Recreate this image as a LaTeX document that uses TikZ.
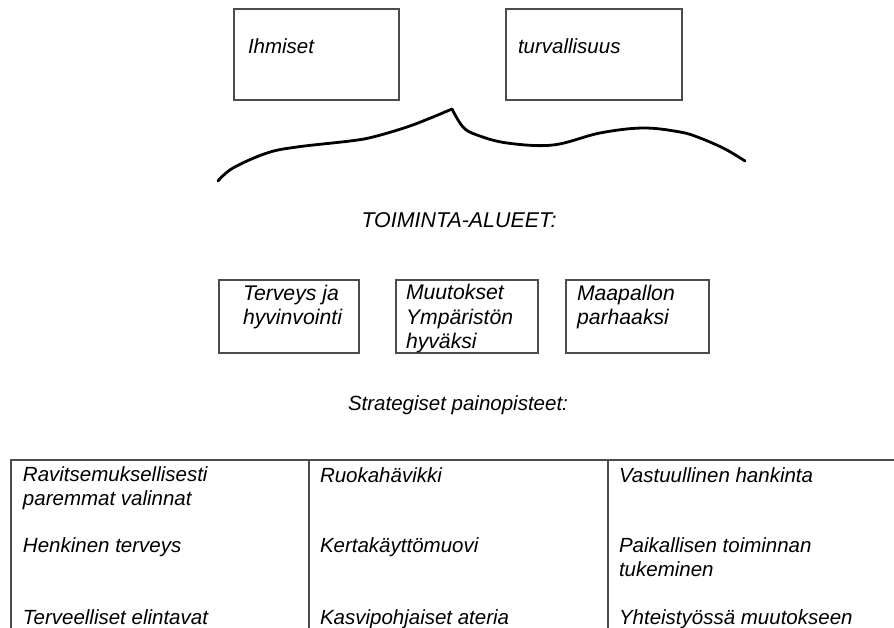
\documentclass[tikz,border=0pt]{standalone}
\usepackage{fontspec}
\setmainfont{Liberation Sans}
\begin{document}
\begin{tikzpicture}[x=1pt,y=-1pt,
  every node/.style={inner sep=0pt, outer sep=0pt, text=black,
    font=\fontsize{20.5}{24}\selectfont\itshape},
  label/.style={anchor=base west, align=left},
  biglabel/.style={label, font=\fontsize{21.2}{24}\selectfont\itshape},
  title/.style={anchor=base},
  frame/.style={draw=black!70, line width=1.1pt, fill=none},
  grid/.style={draw=black!70, line width=1.1pt},
  brace/.style={line width=2.8pt, line cap=round, line join=round}]
\useasboundingbox (0,0) rectangle (894,628);

% upper boxes
\node[frame, anchor=north west, minimum width=165, minimum height=91] (ihm) at (234,9) {};
\node[frame, anchor=north west, minimum width=176, minimum height=91] (tur) at (506,9) {};
\node[label] (tihm) at (248,54) {Ihmiset};
\node[label] (ttur) at (518,54) {turvallisuus};

% hand-drawn brace (multi-line nodes below are anchored at their last baseline)
\draw[brace] plot[smooth, tension=0.6] coordinates
  {(218,181) (233,168) (267,153) (297,147) (350,141) (373,137) (407,127) (433,117) (452,109)};
\draw[brace] plot[smooth, tension=0.6] coordinates
  {(452,109) (463,127) (477,135) (507,143) (553,145) (600,133) (643,128) (680,132) (700,138) (725,149) (745,161)};

\node[title, font=\fontsize{21.4}{24}\selectfont\itshape] (area) at (459,228) {TOIMINTA-ALUEET:};

% action areas
\node[frame, anchor=north west, minimum width=140, minimum height=73] (a1) at (219,280) {};
\node[frame, anchor=north west, minimum width=142, minimum height=73] (a2) at (396,280) {};
\node[frame, anchor=north west, minimum width=143, minimum height=73] (a3) at (566,280) {};
\node[biglabel] (t1) at (243,324) {Terveys ja\\hyvinvointi};
\node[biglabel] (t2) at (406,348) {Muutokset\\Ympäristön\\hyväksi};
\node[biglabel] (t3) at (577,324) {Maapallon\\parhaaksi};

\node[title] (focus) at (458,410) {Strategiset painopisteet:};

% focus table
\coordinate (tl) at (11,460);
\coordinate (tr) at (894,460);
\draw[grid] (tr) -- (tl) -- (11,628);
\draw[grid] (309,460) -- (309,628);
\draw[grid] (608,460) -- (608,628);

\node[label] (c11) at (23,505) {Ravitsemuksellisesti\\paremmat valinnat};
\node[label] (c12) at (23,552) {Henkinen terveys};
\node[label] (c13) at (23,624) {Terveelliset elintavat};
\node[label] (c21) at (320,482) {Ruokahävikki};
\node[label] (c22) at (320,552) {Kertakäyttömuovi};
\node[label] (c23) at (320,624) {Kasvipohjaiset ateria};
\node[label] (c31) at (619,482) {Vastuullinen hankinta};
\node[label] (c32) at (619,576) {Paikallisen toiminnan\\tukeminen};
\node[label] (c33) at (619,624) {Yhteistyössä muutokseen};
\end{tikzpicture}
\end{document}
